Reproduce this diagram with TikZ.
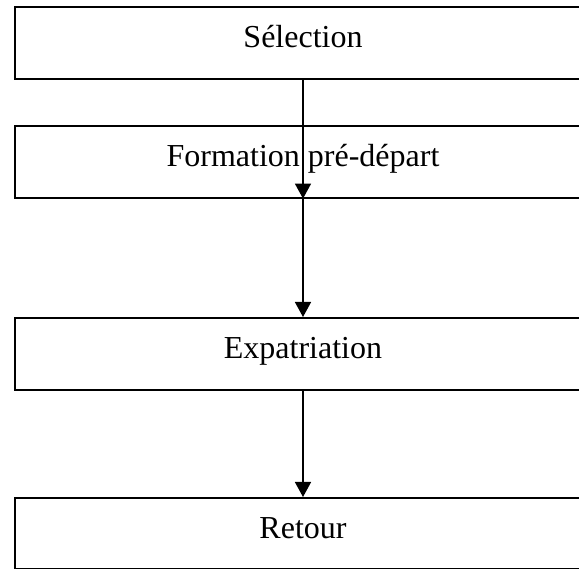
\documentclass[tikz,border=0pt]{standalone}
\usepackage{fontspec}
\setmainfont{Liberation Serif}
\usetikzlibrary{arrows.meta}
\begin{document}
\begin{tikzpicture}[x=1pt,y=-1pt,
  stage/.style={draw=black, line width=1.6pt, rectangle, inner sep=0pt,
    minimum width=576pt, minimum height=72pt, text height=41pt, text depth=31pt,
    font=\fontsize{32pt}{36pt}\selectfont, anchor=north},
  flow/.style={line width=1.5pt, -{Triangle[length=15pt,width=16pt]}}]
\useasboundingbox (0,0) rectangle (579,569);
\clip (0,0) rectangle (579,569);
\node[stage] (sel) at (303,6) {Sélection};
\node[stage] (form) at (303,125) {Formation pré-départ};
\node[stage] (exp) at (303,317) {Expatriation};
\node[stage, minimum height=71pt, text depth=30pt] (ret) at (303,497) {Retour};
\draw[flow] (sel.south) -- (form.south);
\draw[flow] (form.south) -- (exp.north);
\draw[flow] (exp.south) -- (ret.north);
\end{tikzpicture}
\end{document}
